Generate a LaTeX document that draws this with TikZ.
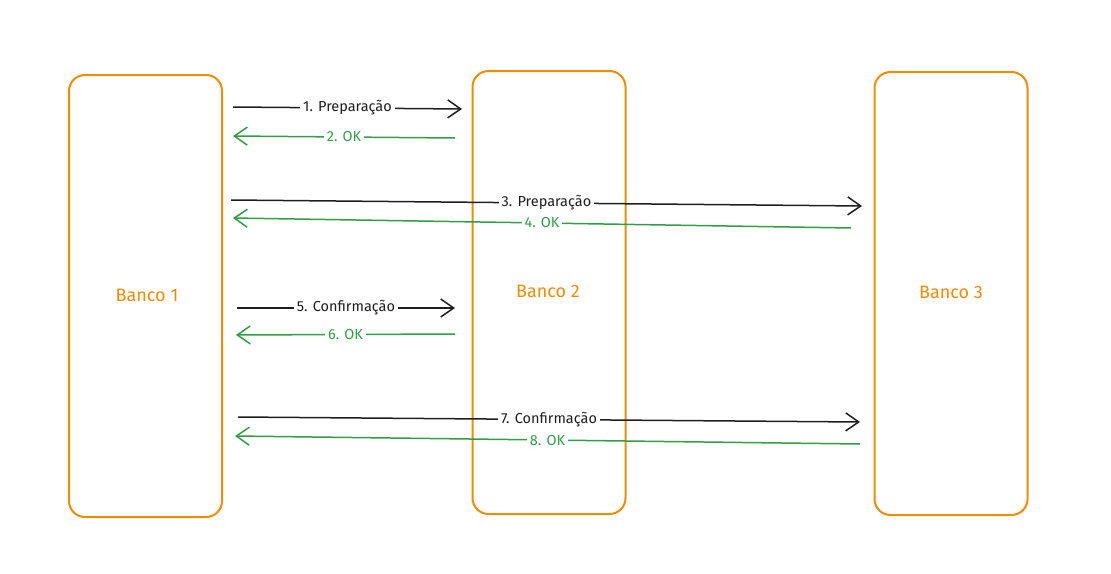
\documentclass[tikz,border=0pt]{standalone}
\usepackage{fontspec}
\setmainfont{Fira Sans}
\usetikzlibrary{arrows.meta}
\definecolor{borange}{HTML}{F08C00}
\definecolor{bgreen}{HTML}{2F9E44}
\definecolor{bblack}{HTML}{1E1E1E}
\begin{document}
\begin{tikzpicture}[x=1pt,y=-1pt,
  bank/.style={draw=borange,line width=2pt,rounded corners=16pt,minimum width=153pt,inner sep=0pt},
  banklabel/.style={text=borange,font=\fontsize{18}{21}\selectfont},
  msg/.style={bblack,line width=1.5pt,-{Straight Barb[length=13pt,width=18pt,line width=1.5pt]}},
  ack/.style={bgreen,line width=1.5pt,-{Straight Barb[length=13pt,width=18pt,line width=1.5pt]}},
  lbl/.style={fill=white,inner sep=3pt,font=\fontsize{14.5}{17}\selectfont},
]
\useasboundingbox (0,0) rectangle (1111,573);
\node[bank,minimum height=442pt] (b1) at (145.5,296) {};
\node[bank,minimum height=443pt] (b2) at (549,292.5) {};
\node[bank,minimum height=443pt] (b3) at (951,293.5) {};
\node[banklabel] (t1) at (147,295) {Banco 1};
\node[banklabel] (t2) at (548,291) {Banco 2};
\node[banklabel] (t3) at (951,292) {Banco 3};

\coordinate (s1) at (233,107); \coordinate (e1) at (462,109);
\coordinate (s2) at (455,138); \coordinate (e2) at (233,136);
\coordinate (s3) at (231,200); \coordinate (e3) at (862,206);
\coordinate (s4) at (851,228); \coordinate (e4) at (233,218);
\coordinate (s5) at (237,308); \coordinate (e5) at (455,308);
\coordinate (s6) at (455,334); \coordinate (e6) at (236,335);
\coordinate (s7) at (238,417); \coordinate (e7) at (860,422);
\coordinate (s8) at (860,444); \coordinate (e8) at (235,436);

\draw[msg] (s1) -- node[lbl,text=bblack,pos=0.5] (l1) {1. Preparação} (e1);
\draw[ack] (s2) -- node[lbl,text=bgreen,pos=0.5] (l2) {2. OK} (e2);
\draw[msg] (s3) -- node[lbl,text=bblack,pos=0.5] (l3) {3. Preparação} (e3);
\draw[ack] (s4) -- node[lbl,text=bgreen,pos=0.5] (l4) {4. OK} (e4);
\draw[msg] (s5) -- node[lbl,text=bblack,pos=0.5] (l5) {5. Confirmação} (e5);
\draw[ack] (s6) -- node[lbl,text=bgreen,pos=0.5] (l6) {6. OK} (e6);
\draw[msg] (s7) -- node[lbl,text=bblack,pos=0.5] (l7) {7. Confirmação} (e7);
\draw[ack] (s8) -- node[lbl,text=bgreen,pos=0.5] (l8) {8. OK} (e8);
\end{tikzpicture}
\end{document}
